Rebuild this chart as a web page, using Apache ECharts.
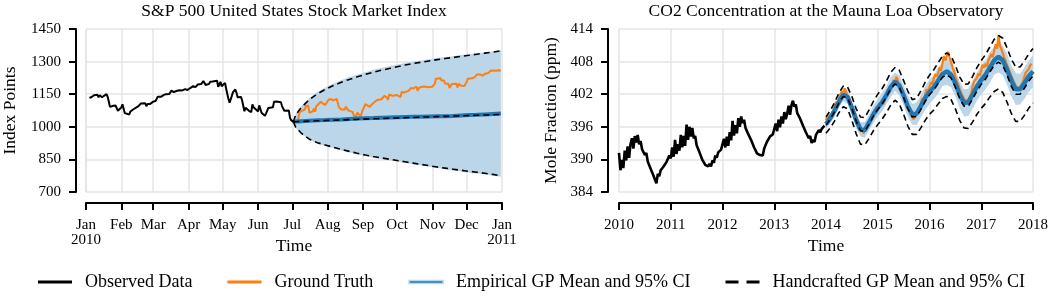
<!DOCTYPE html>
<html>
<head>
<meta charset="utf-8">
<script src="https://cdn.jsdelivr.net/npm/echarts@6/dist/echarts.min.js"></script>
<style>html,body{margin:0;padding:0;background:#fff}#c{width:1062px;height:299px}</style>
</head>
<body>
<div id="c"></div>
<script>
// ---------------- S&P 500 (2010) ----------------
const spYear = 2010;
const monthNames = ['Jan','Feb','Mar','Apr','May','Jun','Jul','Aug','Sep','Oct','Nov','Dec'];
const spObsDays = ['01-04','01-05','01-06','01-07','01-08','01-11','01-12','01-13','01-14','01-15','01-19','01-20','01-21','01-22','01-25','01-26','01-27','01-28','01-29',
'02-01','02-02','02-03','02-04','02-05','02-08','02-09','02-10','02-11','02-12','02-16','02-17','02-18','02-19','02-22','02-23','02-24','02-25','02-26',
'03-01','03-02','03-03','03-04','03-05','03-08','03-09','03-10','03-11','03-12','03-15','03-16','03-17','03-18','03-19','03-22','03-23','03-24','03-25','03-26','03-29','03-30','03-31',
'04-01','04-05','04-06','04-07','04-08','04-09','04-12','04-13','04-14','04-15','04-16','04-19','04-20','04-21','04-22','04-23','04-26','04-27','04-28','04-29','04-30',
'05-03','05-04','05-05','05-06','05-07','05-10','05-11','05-12','05-13','05-14','05-17','05-18','05-19','05-20','05-21','05-24','05-25','05-26','05-27','05-28',
'06-01','06-02','06-03','06-04','06-07','06-08','06-09','06-10','06-11','06-14','06-15','06-16','06-17','06-18','06-21','06-22','06-23','06-24','06-25','06-28','06-29','06-30',
'07-01','07-02'];
const spObsClose = [1132.99,1136.52,1137.14,1141.69,1144.98,1146.98,1136.22,1145.68,1148.46,1136.03,1150.23,1138.04,1116.48,1091.76,1096.78,1092.17,1097.50,1084.53,1073.87,
1089.19,1103.32,1097.28,1063.11,1066.19,1056.74,1070.52,1068.13,1078.47,1075.51,1094.87,1099.51,1106.75,1109.17,1108.01,1094.60,1105.24,1102.94,1104.49,
1115.71,1118.31,1118.79,1122.97,1138.70,1138.50,1140.45,1145.61,1150.24,1149.99,1150.51,1159.46,1166.21,1165.83,1159.90,1165.81,1174.17,1167.72,1165.73,1166.59,1173.22,1173.27,1169.43,
1178.10,1187.44,1189.44,1182.45,1186.44,1194.37,1196.48,1197.30,1210.65,1211.67,1192.13,1197.52,1207.17,1205.94,1208.67,1217.28,1212.05,1183.71,1191.36,1206.78,1186.69,
1202.26,1173.60,1165.90,1128.15,1110.88,1159.73,1155.79,1171.67,1157.44,1135.68,1136.94,1120.80,1115.05,1071.59,1087.69,1073.65,1074.03,1067.95,1103.06,1089.41,
1070.71,1098.38,1102.83,1064.88,1050.47,1062.00,1055.69,1086.84,1091.60,1089.63,1115.23,1114.61,1116.04,1117.51,1113.20,1095.31,1092.04,1073.69,1076.76,1074.57,1041.24,1030.71,
1027.37,1022.58];
const spTruthDays = ['07-02','07-06','07-07','07-08','07-09','07-12','07-13','07-14','07-15','07-16','07-19','07-20','07-21','07-22','07-23','07-26','07-27','07-28','07-29','07-30',
'08-02','08-03','08-04','08-05','08-06','08-09','08-10','08-11','08-12','08-13','08-16','08-17','08-18','08-19','08-20','08-23','08-24','08-25','08-26','08-27','08-30','08-31',
'09-01','09-02','09-03','09-07','09-08','09-09','09-10','09-13','09-14','09-15','09-16','09-17','09-20','09-21','09-22','09-23','09-24','09-27','09-28','09-29','09-30',
'10-01','10-04','10-05','10-06','10-07','10-08','10-11','10-12','10-13','10-14','10-15','10-18','10-19','10-20','10-21','10-22','10-25','10-26','10-27','10-28','10-29',
'11-01','11-02','11-03','11-04','11-05','11-08','11-09','11-10','11-11','11-12','11-15','11-16','11-17','11-18','11-19','11-22','11-23','11-24','11-26','11-29','11-30',
'12-01','12-02','12-03','12-06','12-07','12-08','12-09','12-10','12-13','12-14','12-15','12-16','12-17','12-20','12-21','12-22','12-23','12-27','12-28','12-29','12-30','12-31'];
const spTruthClose = [1022.58,1028.06,1060.27,1070.25,1077.96,1078.75,1095.34,1095.17,1096.48,1064.88,1071.25,1083.48,1069.59,1093.67,1102.66,1115.01,1113.84,1106.13,1101.53,1101.60,
1125.86,1120.46,1127.24,1125.81,1121.64,1127.79,1121.06,1089.47,1083.61,1079.25,1079.38,1092.54,1094.16,1075.63,1071.69,1067.36,1051.87,1055.33,1047.22,1064.59,1048.92,1049.33,
1080.29,1090.10,1104.51,1091.84,1098.87,1104.18,1109.55,1121.90,1121.10,1125.07,1124.66,1125.59,1142.71,1139.78,1134.28,1124.83,1148.67,1142.16,1147.70,1144.73,1141.20,
1146.24,1137.03,1160.75,1159.97,1158.06,1165.15,1165.32,1169.77,1178.10,1173.81,1176.19,1184.71,1165.90,1178.17,1180.26,1183.08,1185.62,1185.64,1182.45,1183.78,1183.26,
1184.38,1193.57,1197.96,1221.06,1225.85,1223.25,1213.40,1218.71,1213.54,1199.21,1197.75,1178.34,1178.59,1196.69,1199.73,1197.84,1180.73,1198.35,1189.40,1187.76,1180.55,
1206.07,1221.53,1224.71,1223.12,1223.75,1228.28,1233.00,1240.40,1240.46,1241.59,1235.23,1242.87,1243.91,1247.08,1254.60,1258.84,1256.77,1257.54,1258.51,1259.78,1257.88,1257.64];
const spModelDays = ['07-02','07-04','07-09','07-16','07-23','07-30','08-06','08-13','08-20','08-27','09-03','09-10','09-17','09-24','10-01','10-08','10-15','10-22','10-29','11-05','11-12','11-19','11-26','12-03','12-10','12-17','12-24','12-31'];
const spEmpMean = [1022.6,1024,1026,1028,1030,1031,1033,1034,1036,1038,1039,1040,1042,1043,1044,1045,1046,1046,1047,1048,1049,1050,1052,1054,1055,1057,1059,1061];
const spEmpUpper = [1023,1060,1097,1133,1160,1181,1199,1214,1229,1240,1251,1262,1270,1279,1286,1293,1300,1305,1311,1316,1321,1325,1330,1333,1338,1342,1346,1352];
const spEmpLower = [1022,996,967,940,923,911,902,891,883,873,866,858,852,846,840,834,828,822,816,810,805,799,794,789,785,780,775,770];
const spHcMean = [1022.6,1023.5,1024.5,1026,1027.5,1029,1030,1031.5,1033,1034,1035.5,1037,1038,1039.5,1040.5,1042,1043,1044.5,1045.5,1047,1048,1049.5,1050.5,1052,1053,1054.5,1055.5,1057];
const spHcUpper = [1023,1055,1090,1125,1152,1172,1190,1205,1218,1230,1241,1251,1260,1268,1276,1284,1291,1297,1303,1309,1314,1319,1324,1329,1334,1339,1344,1350];
const spHcLower = [1022,998,970,943,927,916,906,896,887,878,870,863,857,851,845,839,833,827,821,815,810,805,800,795,791,786,781,775];
const spYTicks = {min:700, max:1450, step:150};

// ---------------- CO2 Mauna Loa ----------------
const co2ObsStart = 2010, co2TruthStart = 2014, co2PerYear = 36, co2ModelPerYear = 12;
const co2Obs = [
391.2,388.0,389.9, 388.4,391.6,389.8, 392.4,390.3,392.8, 393.9,392.0,394.3, 393.1,394.5,392.8, 393.4,391.9,392.2, 390.8,391.2,389.6, 389.7,388.3,388.2, 387.0,387.2,385.6, 387.3,386.9,388.0, 387.7,388.7,388.6, 389.5,389.5,390.7,
390.2,392.2,390.5, 393.6,391.0,392.8, 391.6,394.5,392.2, 394.3,392.5,396.4, 393.6,396.0,394.2, 395.8,393.9,394.3, 392.6,392.8,391.3, 391.4,389.9,390.2, 389.0,389.3,388.7, 389.2,388.7,389.8, 389.4,390.7,390.3, 391.3,391.3,391.8,
391.8,393.8,392.2, 394.2,392.5,395.0, 393.5,397.1,394.4, 396.3,394.8,397.6, 396.0,397.9,396.7, 397.3,395.8,396.0, 394.6,394.8,393.5, 393.6,392.2,392.3, 391.1,391.2,390.8, 391.0,390.7,392.0, 391.9,393.3,393.0, 394.2,394.2,394.6,
394.6,396.6,395.2, 397.3,395.9,397.9, 396.6,398.7,397.4, 398.4,399.9,398.2, 400.0,400.8,399.7, 400.1,398.5,398.7, 397.5,397.6,396.2, 396.4,395.0,395.3, 393.9,394.3,393.0, 393.6,393.2,394.5, 394.2,395.4,395.0, 395.6,395.4,396.2];
const co2Truth = [
397.2,398.1,397.6, 398.3,397.9,398.8, 399.8,400.6,400.2, 401.4,401.1,402.5, 402.0,403.1,402.3, 401.8,401.2,400.4, 399.9,399.2,398.6, 397.9,397.2,396.6, 395.9,395.3,394.8, 395.2,395.6,396.0, 396.6,397.2,397.0, 398.1,398.9,398.5,
399.2,400.4,399.8, 400.9,400.1,401.0, 401.9,402.8,402.3, 403.6,403.2,404.6, 404.2,405.2,404.5, 403.2,402.6,402.1, 401.7,401.0,400.3, 399.6,398.8,398.2, 397.8,397.4,397.9, 398.0,398.6,399.0, 400.4,401.3,400.9, 402.0,402.9,402.5,
403.3,404.2,403.8, 404.9,405.7,405.2, 405.8,406.9,406.3, 407.6,409.0,408.2, 408.4,409.8,408.7, 407.9,407.0,406.3, 405.2,404.4,403.8, 403.0,402.3,401.7, 401.2,400.8,400.6, 401.0,401.6,402.1, 403.4,404.3,404.0, 405.0,405.8,405.4,
406.4,407.4,406.9, 407.6,407.1,408.2, 408.3,409.4,408.8, 410.0,411.2,410.4, 412.8,410.9,410.3, 409.5,408.7,408.1, 407.3,406.7,406.0, 405.3,404.7,404.1, 403.6,403.2,403.0, 403.3,403.8,404.3, 405.3,406.0,405.7, 406.6,407.3,407.6];
const co2EmpMean = [396.5,397.6,399.0,400.6,401.9,401.5,399.5,397.2,395.5,395.4,396.8,398.3,
399.5,400.5,401.8,403.3,404.3,403.6,401.8,399.7,398.3,398.4,399.8,401.3,
402.4,403.3,404.5,405.7,406.2,405.6,404.0,401.9,400.4,400.5,401.9,403.4,
404.6,405.6,406.9,408.2,408.9,408.2,406.5,404.4,402.9,402.9,404.0,405.3,406.2];
const co2EmpUpper = [397.3,398.5,400.1,401.6,403.1,402.8,400.7,398.6,396.8,396.9,398.2,399.9,
401.1,402.2,403.4,405.1,406.0,405.5,403.6,401.7,400.2,400.5,401.8,403.5,
404.7,405.4,406.9,407.9,408.7,407.9,406.5,404.3,402.9,403.0,404.5,406.0,
407.3,408.2,409.7,410.8,411.8,410.9,409.4,407.1,405.9,405.7,406.9,408.2,409.1];
const co2EmpLower = [395.7,396.7,397.9,399.6,400.7,400.2,398.3,395.8,394.2,394.0,395.4,396.7,
397.9,398.8,400.2,401.5,402.6,401.7,399.9,397.8,396.4,396.3,397.8,399.1,
400.2,401.1,402.1,403.5,403.7,403.3,401.6,399.4,397.9,398.0,399.3,400.8,
402.0,402.9,404.1,405.6,406.0,405.5,403.7,401.6,400.0,400.1,401.1,402.4,403.3];
const co2HcMean = [396.3,397.4,398.8,400.4,401.6,401.3,399.4,397.0,395.3,395.2,396.5,398.0,
399.2,400.2,401.5,403.0,403.9,403.3,401.4,399.3,397.8,397.9,399.2,400.7,
401.9,402.8,404.0,405.1,405.6,405.0,403.3,401.2,399.8,399.8,401.1,402.6,
403.8,404.8,406.1,407.3,407.9,407.3,405.5,403.4,402.0,402.0,403.1,404.4,405.4];
const co2HcUpper = [397.8,399.0,400.5,402.2,403.5,403.3,401.6,399.3,397.8,397.7,399.1,400.7,
402.0,403.0,404.4,406.0,406.9,406.4,404.5,402.5,401.0,401.2,402.6,404.2,
405.5,406.5,407.8,409.0,409.6,409.0,407.3,405.2,403.8,403.9,405.3,406.9,
408.2,409.3,410.7,412.1,412.8,412.3,410.5,408.4,407.0,407.0,408.1,409.4,410.4];
const co2HcLower = [394.8,395.8,397.1,398.6,399.7,399.3,397.2,394.7,392.8,392.7,393.9,395.3,
396.4,397.4,398.6,400.0,400.9,400.2,398.3,396.1,394.6,394.6,395.8,397.2,
398.3,399.1,400.2,401.2,401.6,401.0,399.3,397.2,395.8,395.7,396.9,398.3,
399.4,400.3,401.5,402.5,403.0,402.3,400.5,398.4,397.0,397.0,398.1,399.4,400.4];
const co2YTicks = {min:384, max:414, step:6};
const co2XTicks = {min:2010, max:2018, step:1};

// ---------------- helpers ----------------
const FONT = "'Liberation Serif','Times New Roman',serif";
const C = {black:'#000000', orange:'#ff7f0e', blue:'#1f77b4', band:'#bbd5e9', grid:'#e4e4e4'};
function ts(md){ const p = md.split('-').map(Number); return new Date(spYear, p[0]-1, p[1]).getTime(); }
const spObsX = spObsDays.map(ts), spTruthX = spTruthDays.map(ts), spModelX = spModelDays.map(ts);
const co2ObsX = co2Obs.map((v,i)=>co2ObsStart + i/co2PerYear);
const co2TruthX = co2Truth.map((v,i)=>co2TruthStart + i/co2PerYear);
const co2ModelX = co2EmpMean.map((v,i)=>co2TruthStart + i/co2ModelPerYear);
const zip = (xs, ys) => xs.map((x,i)=>[x, ys[i]]);

function band(name, xs, lo, hi, ax){
  return {type:'custom', name, xAxisIndex:ax, yAxisIndex:ax, silent:true, clip:true,
    data: xs.map((x,i)=>[x, lo[i], hi[i]]), encode:{x:0, y:[1,2]},
    renderItem:(params, api)=>{
      if (params.dataIndex !== 0) return null;
      const pts = [];
      for (let i=0;i<xs.length;i++) pts.push(api.coord([xs[i], hi[i]]));
      for (let i=xs.length-1;i>=0;i--) pts.push(api.coord([xs[i], lo[i]]));
      return {type:'polygon', shape:{points:pts}, style:{fill:C.band, stroke:null}};
    }};
}
function line(name, data, color, width, ax, dashed){
  return {type:'line', name, data, xAxisIndex:ax, yAxisIndex:ax, showSymbol:false, symbol:'none', silent:true,
    lineStyle:{color, width, type: dashed ? [6,4] : 'solid', cap:'butt'}, itemStyle:{color}};
}
const EMP = 'Empirical GP Mean and 95% CI', HC = 'Handcrafted GP Mean and 95% CI';
const tickStyle = {fontFamily:FONT, fontSize:15, color:'#000'};
const nameStyle = {fontFamily:FONT, fontSize:17.5, color:'#000'};
const axLine = {show:true, lineStyle:{color:'#000', width:2}};
const axTick = {show:true, length:7, lineStyle:{color:'#000', width:2}};
const split = {show:true, lineStyle:{color:C.grid, width:1.5}};

const chart = echarts.init(document.getElementById('c'), null, {renderer:'canvas'});
chart.setOption({
  animation:false,
  backgroundColor:'#fff',
  graphic:[
    {type:'text', x:294, y:11, style:{text:'S&P 500 United States Stock Market Index', font:"17.5px 'Liberation Serif',serif", fill:'#000', textAlign:'center', textVerticalAlign:'middle'}},
    {type:'text', x:826, y:11, style:{text:'CO2 Concentration at the Mauna Loa Observatory', font:"17.5px 'Liberation Serif',serif", fill:'#000', textAlign:'center', textVerticalAlign:'middle'}}
  ],
  legend:{left:33, top:268, itemWidth:34, itemHeight:3, itemGap:35, selectedMode:false,
    textStyle:{fontFamily:FONT, fontSize:18, color:'#000', padding:[0,0,0,8]},
    data:[
      {name:'Observed Data', icon:'rect', itemStyle:{color:C.black}},
      {name:'Ground Truth', icon:'rect', itemStyle:{color:C.orange}},
      {name:EMP, icon:'rect', itemStyle:{color:C.blue, borderColor:C.band, borderWidth:1.5}},
      {name:HC, icon:'path://M0,0H13V3H0Z M21,0H34V3H21Z', itemStyle:{color:C.black}}
    ]},
  grid:[{left:86, top:29, width:416, height:163}, {left:619, top:29, width:414, height:163}],
  xAxis:[
    {type:'time', gridIndex:0, min:ts('01-01'), max:new Date(spYear+1,0,1).getTime(), offset:11, splitNumber:12,
     minInterval:28*86400000, maxInterval:31*86400000,
     axisLine:axLine, axisTick:axTick, splitLine:split,
     axisLabel:{...tickStyle, margin:15, lineHeight:15, hideOverlap:false, showMinLabel:true, showMaxLabel:true,
       formatter:(v)=>{const d=new Date(v); const m=d.getMonth(); return m===0 ? monthNames[0]+'\n'+d.getFullYear() : monthNames[m];}},
     name:'Time', nameLocation:'middle', nameGap:34, nameMoveOverlap:false, nameTextStyle:nameStyle},
    {type:'value', gridIndex:1, min:co2XTicks.min, max:co2XTicks.max, interval:co2XTicks.step, offset:11,
     axisLine:axLine, axisTick:axTick, splitLine:split,
     axisLabel:{...tickStyle, margin:15, formatter:(v)=>String(v)},
     name:'Time', nameLocation:'middle', nameGap:34, nameMoveOverlap:false, nameTextStyle:nameStyle}
  ],
  yAxis:[
    {type:'value', gridIndex:0, min:spYTicks.min, max:spYTicks.max, interval:spYTicks.step, offset:10,
     axisLine:axLine, axisTick:axTick, splitLine:split, axisLabel:{...tickStyle, margin:15, formatter:(v)=>String(v)},
     name:'Index Points', nameLocation:'middle', nameGap:57, nameMoveOverlap:false, nameTextStyle:nameStyle},
    {type:'value', gridIndex:1, min:co2YTicks.min, max:co2YTicks.max, interval:co2YTicks.step, offset:11,
     axisLine:axLine, axisTick:axTick, splitLine:split, axisLabel:{...tickStyle, margin:15, formatter:(v)=>String(v)},
     name:'Mole Fraction (ppm)', nameLocation:'middle', nameGap:48, nameMoveOverlap:false, nameTextStyle:nameStyle}
  ],
  series:[
    band(EMP, spModelX, spEmpLower, spEmpUpper, 0),
    line('Observed Data', zip(spObsX, spObsClose), C.black, 2, 0),
    line('Ground Truth', zip(spTruthX, spTruthClose), C.orange, 2, 0),
    line(EMP, zip(spModelX, spEmpMean), C.blue, 4, 0),
    line(HC, zip(spModelX, spHcMean), C.black, 1.6, 0, true),
    line(HC, zip(spModelX, spHcUpper), C.black, 1.6, 0, true),
    line(HC, zip(spModelX, spHcLower), C.black, 1.6, 0, true),

    band(EMP, co2ModelX, co2EmpLower, co2EmpUpper, 1),
    line('Observed Data', zip(co2ObsX, co2Obs), C.black, 2.6, 1),
    line('Ground Truth', zip(co2TruthX, co2Truth), C.orange, 2.2, 1),
    line(EMP, zip(co2ModelX, co2EmpMean), C.blue, 4.5, 1),
    line(HC, zip(co2ModelX, co2HcMean), C.black, 1.6, 1, true),
    line(HC, zip(co2ModelX, co2HcUpper), C.black, 1.6, 1, true),
    line(HC, zip(co2ModelX, co2HcLower), C.black, 1.6, 1, true)
  ]
});
</script>
</body>
</html>
